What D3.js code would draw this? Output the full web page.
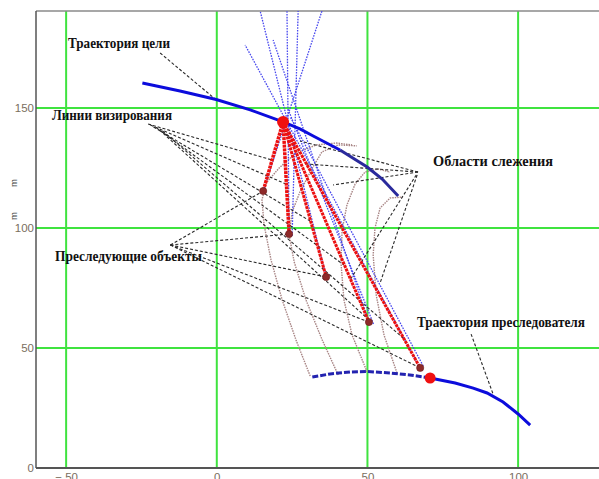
<!DOCTYPE html>
<html>
<head>
<meta charset="utf-8">
<script src="https://cdn.jsdelivr.net/npm/d3@7"></script>
<style>
  html, body { margin: 0; padding: 0; background: #fff; }
  svg { display: block; }
</style>
</head>
<body>
<svg id="chart" width="599" height="479"></svg>
<script>
// ---- data (plane coordinates, metres) ----
const xTicks = [-50, 0, 50, 100];
const yTicks = [0, 50, 100, 150];

// target path
const targetPathX = [-24.7, -12.2, -0.2, 11.1, 22.0, 27.6, 32.0, 40.9, 49.9, 54.9, 60.2];
const targetPathY = [160.4, 157.1, 153.5, 149.2, 144.2, 141.3, 138.3, 132.5, 125.4, 120.4, 113.3];

// carrier (pursuer) path: flown part and part still ahead
const carrierPastX = [31.7, 37.6, 44.2, 49.9, 57.5, 64.1, 70.8];
const carrierPastY = [37.9, 39.2, 40.0, 40.2, 39.6, 38.75, 37.5];
const carrierNextX = [70.8, 79.1, 85.1, 89.7, 95.0, 100.0, 104.0];
const carrierNextY = [37.5, 35.4, 33.3, 31.25, 27.5, 22.5, 17.9];

// current target and carrier positions
const targetNow = [22.0, 144.2];
const carrierNow = [70.8, 37.5];

// pursuing objects
const chaserX = [15.4, 24.0, 36.3, 50.5, 67.5];
const chaserY = [115.4, 97.5, 79.6, 60.8, 41.7];

// extended sight lines: [x0, y0, x1, y1]
const sightExtX0 = [15.4, 24.0, 25.0, 36.3, 50.5, 67.5, 52.0, 68.5];
const sightExtY0 = [115.4, 97.5, 96.7, 79.6, 60.8, 41.7, 60.0, 42.5];
const sightExtX1 = [34.9, 23.3, 27.0, 14.4, 18.7, 9.4, 23.5, 24.5];
const sightExtY1 = [190.4, 190.4, 190.4, 190.4, 178.3, 176.25, 150.0, 146.0];

// tracking areas (boundary curves)
const areaCurves = [
  { x: [31.0, 26.3, 21.7, 18.0, 15.7, 15.0, 16.4, 20.7, 26.3, 33.0, 39.6, 44.9],
    y: [38.3, 53.3, 70.0, 86.7, 101.25, 111.7, 118.75, 125.0, 131.25, 134.6, 135.4, 134.6] },
  { x: [40.3, 35.0, 29.6, 25.7, 24.0, 25.0, 27.6, 31.9, 34.9, 40.3, 46.5],
    y: [38.75, 53.3, 70.0, 85.8, 97.1, 106.7, 115.0, 125.4, 131.7, 134.6, 134.2] },
  { x: [49.9, 44.9, 42.2, 41.2, 41.6, 43.2, 45.9, 49.2, 53.5, 57.5],
    y: [40.0, 55.4, 70.0, 85.8, 99.2, 109.6, 118.3, 123.3, 124.6, 123.3] },
  { x: [59.8, 55.5, 52.9, 51.9, 52.5, 54.2, 57.5, 61.8],
    y: [39.6, 55.4, 72.1, 88.75, 100.0, 108.3, 112.5, 112.9] }
];

// callout texts
const calloutText = ["Траектория цели", "Линии визирования", "Области слежения",
                     "Преследующие объекты", "Траектория преследователя"];

// leader lines for each callout: anchors and targets
const leaderTarget = { x0: [-18.8], y0: [172.9], x1: [-0.56], y1: [153.75] };
const leaderSight = {
  x0: [-22.8, -22.0, -21.0, -20.0, -19.0, -18.0],
  y0: [143.3, 142.9, 142.1, 141.7, 140.8, 140.4],
  x1: [18.4, 23.0, 30.96, 42.2, 49.8, 61.8],
  y1: [128.3, 118.3, 102.9, 84.6, 62.5, 54.2]
};
const leaderArea = {
  x0: [66.8, 66.8, 66.8, 66.2, 66.5],
  y0: [123.3, 123.3, 123.3, 122.1, 122.1],
  x1: [27.6, 29.3, 38.6, 44.2, 54.2],
  y1: [136.25, 126.7, 117.9, 78.3, 77.1]
};
const leaderChaser = {
  x0: [-15.4, -15.4, -15.4, -15.4, -15.4],
  y0: [92.9, 92.9, 92.9, 92.9, 92.9],
  x1: chaserX, y1: chaserY
};
const leaderCarrier = { x0: [84.4], y0: [55.8], x1: [91.7], y1: [30.8] };

// ---- drawing ----
const svg = d3.select("#chart");
const x = d3.scaleLinear().domain([-60, 130]).range([36, 608.5]);
const y = d3.scaleLinear().domain([0, 190.4]).range([468, 11]);

const line = d3.line().x(d => x(d[0])).y(d => y(d[1]));
const zip = (xs, ys) => xs.map((v, i) => [v, ys[i]]);

// grid
svg.append("g").selectAll("line").data(xTicks).join("line")
  .attr("x1", d => x(d)).attr("x2", d => x(d))
  .attr("y1", y(190.4)).attr("y2", y(0))
  .attr("stroke", "#3fe33f").attr("stroke-width", 2);
svg.append("g").selectAll("line").data(yTicks.filter(d => d > 0)).join("line")
  .attr("x1", x(-60)).attr("x2", 599)
  .attr("y1", d => y(d)).attr("y2", d => y(d))
  .attr("stroke", "#3fe33f").attr("stroke-width", 2);

// frame
svg.append("line").attr("x1", x(-60)).attr("x2", 599).attr("y1", y(190.4)).attr("y2", y(190.4))
  .attr("stroke", "#8a8a8a").attr("stroke-width", 1.5);
svg.append("line").attr("x1", x(-60)).attr("x2", x(-60)).attr("y1", y(190.4)).attr("y2", y(0))
  .attr("stroke", "#555").attr("stroke-width", 1.5);
svg.append("line").attr("x1", x(-60)).attr("x2", 599).attr("y1", y(0)).attr("y2", y(0))
  .attr("stroke", "#555").attr("stroke-width", 2);

// axes labels
const fmt = d => d < 0 ? "\u2212 " + Math.abs(d) : String(d);
const yAxis = d3.axisLeft(y).tickValues(yTicks).tickSize(0).tickPadding(2).tickFormat(fmt);
const gy = svg.append("g").attr("transform", `translate(${x(-60)},0)`).call(yAxis);
const xAxis = d3.axisBottom(x).tickValues(xTicks).tickSize(0).tickPadding(5).tickFormat(fmt);
const gx = svg.append("g").attr("transform", `translate(0,${y(0)})`).call(xAxis);
[gx, gy].forEach(g => {
  g.select(".domain").remove();
  g.selectAll("text").attr("font-family", "Liberation Sans, Arial, sans-serif")
    .attr("font-size", 11.5).attr("fill", "#7a6e60");
});

// rotated unit marks on the vertical axis
[183, 216].forEach(py => {
  svg.append("text").attr("transform", `translate(17,${py}) rotate(-90)`)
    .attr("text-anchor", "middle").attr("font-family", "Liberation Sans, Arial, sans-serif")
    .attr("font-size", 9.5).attr("fill", "#444").text("m");
});

// tracking area curves
svg.append("g").selectAll("path").data(areaCurves).join("path")
  .attr("d", c => line(zip(c.x, c.y)))
  .attr("fill", "none").attr("stroke", "#a88585").attr("stroke-width", 1.4)
  .attr("stroke-dasharray", "1.5,1");

// extended sight lines (blue dotted)
svg.append("g").selectAll("line").data(sightExtX0).join("line")
  .attr("x1", (d, i) => x(sightExtX0[i])).attr("y1", (d, i) => y(sightExtY0[i]))
  .attr("x2", (d, i) => x(sightExtX1[i])).attr("y2", (d, i) => y(sightExtY1[i]))
  .attr("stroke", "#4848ee").attr("stroke-width", 1.3).attr("stroke-dasharray", "1.6,1.2");

// leader lines
function leaders(L) {
  svg.append("g").selectAll("line").data(L.x0).join("line")
    .attr("x1", (d, i) => x(L.x0[i])).attr("y1", (d, i) => y(L.y0[i]))
    .attr("x2", (d, i) => x(L.x1[i])).attr("y2", (d, i) => y(L.y1[i]))
    .attr("stroke", "#2a2a2a").attr("stroke-width", 1.1).attr("stroke-dasharray", "3,2");
}
[leaderTarget, leaderSight, leaderArea, leaderChaser, leaderCarrier].forEach(leaders);

// target path
const tp = zip(targetPathX, targetPathY);
svg.append("path").attr("d", line(tp.slice(0, 8)))
  .attr("fill", "none").attr("stroke", "#0c0cdc").attr("stroke-width", 3);
svg.append("path").attr("d", line(tp.slice(7)))
  .attr("fill", "none").attr("stroke", "#2a2a9c").attr("stroke-width", 3);

// carrier path
svg.append("path").attr("d", line(zip(carrierPastX, carrierPastY)))
  .attr("fill", "none").attr("stroke", "#2323b0").attr("stroke-width", 3)
  .attr("stroke-dasharray", "6,2");
svg.append("path").attr("d", line(zip(carrierNextX, carrierNextY)))
  .attr("fill", "none").attr("stroke", "#0c0cdc").attr("stroke-width", 3);

// sight lines target -> each chaser
svg.append("g").selectAll("line").data(chaserX).join("line")
  .attr("x1", x(targetNow[0])).attr("y1", y(targetNow[1]))
  .attr("x2", (d, i) => x(chaserX[i])).attr("y2", (d, i) => y(chaserY[i]))
  .attr("stroke", "#ec1010").attr("stroke-width", (d, i) => i < 2 ? 3.5 : 3)
  .attr("stroke-dasharray", "3,0.8");

// chasers
svg.append("g").selectAll("circle").data(chaserX).join("circle")
  .attr("cx", (d, i) => x(chaserX[i])).attr("cy", (d, i) => y(chaserY[i]))
  .attr("r", 3.6).attr("fill", "#8e2a2a").attr("stroke", "#6a1a1a").attr("stroke-width", 0.6);

// current positions
svg.append("circle").attr("cx", x(targetNow[0])).attr("cy", y(targetNow[1]))
  .attr("r", 6).attr("fill", "#f01010");
svg.append("circle").attr("cx", x(carrierNow[0])).attr("cy", y(carrierNow[1]))
  .attr("r", 5.5).attr("fill", "#f01010");

// callouts
const calloutX = [68, 52, 433, 55, 417];
const calloutY = [48, 120, 166, 261, 327];
const calloutW = [102, 120, 120, 147, 168];
svg.append("g").selectAll("text").data(calloutText).join("text")
  .attr("x", (d, i) => calloutX[i]).attr("y", (d, i) => calloutY[i])
  .attr("textLength", (d, i) => calloutW[i]).attr("lengthAdjust", "spacingAndGlyphs")
  .attr("font-family", "Liberation Serif, Times New Roman, serif")
  .attr("font-weight", "bold").attr("font-size", 14).attr("fill", "#111")
  .text(d => d);
</script>
</body>
</html>
